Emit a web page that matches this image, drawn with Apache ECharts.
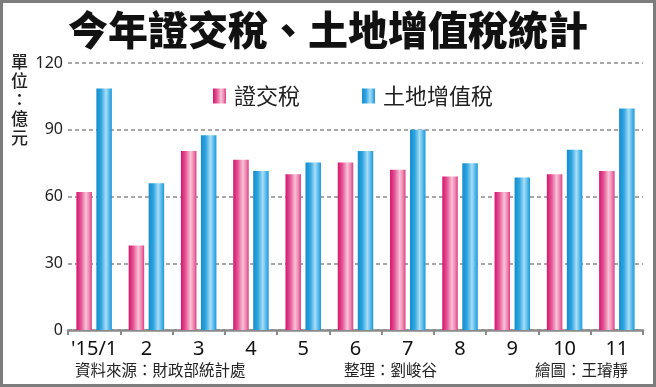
<!DOCTYPE html>
<html>
<head>
<meta charset="utf-8">
<script src="https://cdn.jsdelivr.net/npm/echarts@6/dist/echarts.min.js"></script>
<style>
html,body{margin:0;padding:0;background:#fff;}
#c{width:656px;height:387px;}
</style>
</head>
<body>
<div id="c"></div>
<script>
const titleText = '今年證交稅、土地增值稅統計';
const unitText = '單位：億元';
const categories = ["'15/1", '2', '3', '4', '5', '6', '7', '8', '9', '10', '11'];
const seriesNames = ['證交稅', '土地增值稅'];
const securitiesTax = [62, 38, 80.5, 76.5, 70, 75.3, 72, 69, 62, 70, 71.5];
const landValueTax = [108.5, 66, 87.5, 71.5, 75.3, 80.5, 90, 75, 68.5, 81, 99.5];
const yTicks = [0, 30, 60, 90, 120];
const footerLeft = '資料來源：財政部統計處';
const footerMid = '整理：劉峻谷';
const footerRight = '繪圖：王璿靜';

const CJK = '"Noto Sans CJK TC","Noto Sans CJK SC",sans-serif';
const NUM = '"Noto Sans","Noto Sans CJK TC",sans-serif';

const pinkGrad = new echarts.graphic.LinearGradient(0, 0, 1, 0, [
  {offset: 0, color: '#d3146f'},
  {offset: 0.3, color: '#e45594'},
  {offset: 0.62, color: '#f9c2d8'},
  {offset: 0.85, color: '#ec7fac'},
  {offset: 1, color: '#dc3c82'}
]);
const blueGrad = new echarts.graphic.LinearGradient(0, 0, 1, 0, [
  {offset: 0, color: '#158ccc'},
  {offset: 0.3, color: '#2ea4e0'},
  {offset: 0.62, color: '#a8def7'},
  {offset: 0.85, color: '#4cb4e8'},
  {offset: 1, color: '#1f98d8'}
]);

const chart = echarts.init(document.getElementById('c'), null, {renderer: 'canvas'});
chart.setOption({
  animation: false,
  backgroundColor: '#fff',
  title: {
    text: titleText,
    left: 'center',
    top: 5,
    textStyle: {fontFamily: CJK, fontSize: 40, fontWeight: 900, color: '#111'}
  },
  legend: {
    data: seriesNames,
    left: 208,
    top: 80,
    itemWidth: 13,
    itemHeight: 15,
    itemGap: 62,
    icon: 'rect',
    textStyle: {fontFamily: CJK, fontSize: 22, color: '#222', padding: [0, 0, 0, 3]}
  },
  grid: {left: 68, right: 13, top: 63, bottom: 57, containLabel: false},
  xAxis: {
    type: 'category',
    data: categories,
    axisLine: {show: true, lineStyle: {color: '#8a8a8a', width: 2.5}},
    axisTick: {show: true, length: 5, lineStyle: {color: '#8a8a8a', width: 2}},
    axisLabel: {interval: 0, fontFamily: NUM, fontSize: 20, color: '#111', margin: 9}
  },
  yAxis: {
    type: 'value',
    min: yTicks[0],
    max: yTicks[yTicks.length - 1],
    interval: yTicks[1] - yTicks[0],
    axisLine: {show: false},
    axisTick: {show: false},
    axisLabel: {fontFamily: NUM, fontSize: 16, color: '#222', margin: 5},
    splitLine: {lineStyle: {color: '#8a8a8a', width: 1.5, type: [4, 3]}}
  },
  series: [
    {name: seriesNames[0], type: 'bar', data: securitiesTax, barWidth: 15.5, barGap: '29%', itemStyle: {color: pinkGrad}},
    {name: seriesNames[1], type: 'bar', data: landValueTax, barWidth: 15.5, barGap: '29%', itemStyle: {color: blueGrad}}
  ],
  graphic: [
    {type: 'rect', shape: {x: 1.5, y: 1.5, width: 653, height: 384}, style: {fill: null, stroke: '#7d7d7d', lineWidth: 3}, z: 100},
    {type: 'text', left: 11, top: 52, style: {text: unitText.split('').join('\n'), fontFamily: CJK, fontSize: 17, lineHeight: 19, fill: '#222', fontWeight: 500}},
    {type: 'text', left: 75, top: 362, style: {text: footerLeft, fontFamily: CJK, fontSize: 15.5, fill: '#222'}},
    {type: 'text', left: 344, top: 362, style: {text: footerMid, fontFamily: CJK, fontSize: 15.5, fill: '#222'}},
    {type: 'text', left: 535, top: 362, style: {text: footerRight, fontFamily: CJK, fontSize: 15.5, fill: '#222'}}
  ]
});
</script>
</body>
</html>
